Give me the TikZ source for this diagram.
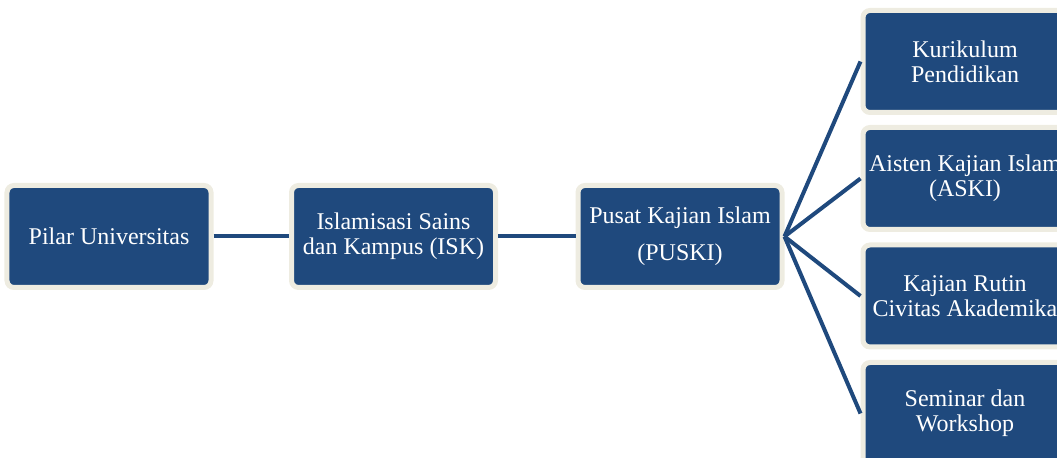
\documentclass[tikz,border=0pt]{standalone}
\usepackage{fontspec}
\setmainfont{Liberation Serif}
\definecolor{boxblue}{HTML}{1F497D}
\definecolor{boxcream}{HTML}{EEECE1}
\begin{document}
\begin{tikzpicture}[x=1bp, y=-1bp,
        pilarbox/.style={draw=boxcream, fill=boxblue, line width=5bp, rounded corners=7bp,
            minimum width=204bp, minimum height=102bp, inner sep=0pt, align=center,
            text=white, font=\fontsize{24bp}{25bp}\selectfont},
        link/.style={draw=boxblue, line width=4bp}]
        \useasboundingbox (0, 0) rectangle (1057, 458);
        \clip (0, 0) rectangle (1057, 458);
        \node[pilarbox] (pilar) at (109, 236.5) {Pilar Universitas};
        \node[pilarbox] (isk) at (393.5, 236.5) {Islamisasi Sains\\dan Kampus (ISK)};
        \node[pilarbox] (puski) at (680, 236.5) {Pusat Kajian Islam\\[12bp](PUSKI)};
        \node[pilarbox] (kurikulum) at (965, 61.5) {Kurikulum\\Pendidikan};
        \node[pilarbox] (aski) at (965, 178.5) {Aisten Kajian Islam\\(ASKI)};
        \node[pilarbox] (rutin) at (965, 296) {Kajian Rutin\\Civitas Akademika};
        \node[pilarbox] (seminar) at (965, 413.5) {Seminar dan\\Workshop};
        \draw[link] (pilar.east) -- (isk.west);
        \draw[link] (isk.east) -- (puski.west);
        \foreach \n in {kurikulum, aski, rutin, seminar} {
            \draw[link] (puski.east) -- (\n.west);
        }
    \end{tikzpicture}
\end{document}
